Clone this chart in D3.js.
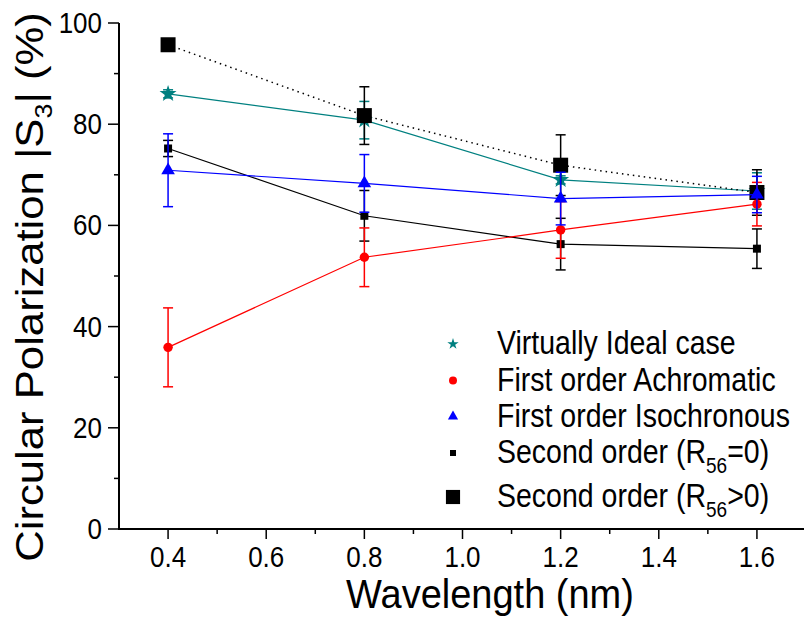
<!DOCTYPE html>
<html>
<head>
<meta charset="utf-8">
<script src="https://cdn.jsdelivr.net/npm/d3@7"></script>
<style>
  body { margin: 0; background: #fff; }
  svg text { font-family: "Liberation Sans", Arial, sans-serif; fill: #000; }
</style>
</head>
<body>
<div id="chart"></div>
<script>
// wavelength (nm) at which each configuration was simulated
const wavelength = [0.4, 0.8, 1.2, 1.6];

// |S3| in percent, with error bar half-heights
const idealVals = [86.0, 80.8, 69.0, 66.8];
const idealErr = [0.8, 3.7, 0.8, 3.6];
const achroVals = [35.9, 53.7, 59.1, 64.2];
const achroErr = [7.8, 5.8, 5.6, 4.3];
const isoVals = [70.9, 68.3, 65.3, 66.1];
const isoErr = [7.2, 5.7, 5.2, 3.6];
const r0Vals = [75.2, 61.9, 56.3, 55.4];
const r0Err = [1.6, 5.0, 5.1, 3.9];
const rpVals = [95.7, 81.7, 71.9, 66.5];
const rpErr = [0, 5.7, 6.0, 4.5];

const xTicks = [0.4, 0.6, 0.8, 1.0, 1.2, 1.4, 1.6];
const yTicks = [0, 20, 40, 60, 80, 100];

const W = 804, H = 618;
var margin = { top: 23, left: 119, bottom: 89 };

const svg = d3.select("#chart").append("svg")
  .attr("width", W)
  .attr("height", H);

const x = d3.scaleLinear().domain([0.3, 1.7]).range([margin.left, 806]);
const y = d3.scaleLinear().domain([0, 100]).range([H - margin.bottom, margin.top]);

// the exported figure is a little taller than wide, text included
function tallText(parent, tx, ty, size, k) {
  return parent.append("text")
    .attr("transform", "translate(" + tx + "," + ty + ") scale(1," + (k || 1.15) + ")")
    .attr("font-size", size);
}

// series in drawing order (later ones sit on top)
const series = [
  { name: "ideal", vals: idealVals, err: idealErr, color: "#008080", symbol: d3.symbolStar, size: 90, dash: null },
  { name: "rp", vals: rpVals, err: rpErr, color: "#000", symbol: d3.symbolSquare, size: 225, dash: "1.5,4" },
  { name: "r0", vals: r0Vals, err: r0Err, color: "#000", symbol: d3.symbolSquare, size: 64, dash: null },
  { name: "achro", vals: achroVals, err: achroErr, color: "#ff0000", symbol: d3.symbolCircle, size: 70, dash: null },
  { name: "iso", vals: isoVals, err: isoErr, color: "#0000ff", symbol: d3.symbolTriangle, size: 80, dash: null }
];

// axes
const xAxis = svg.append("g").attr("transform", "translate(0," + y(0) + ")");
xAxis.append("line").attr("x1", x(0.3)).attr("x2", W).attr("stroke", "#000").attr("stroke-width", 2);
xAxis.selectAll(".minor").data(d3.range(0.5, 1.75, 0.2))
  .enter().append("line")
  .attr("x1", d => x(d)).attr("x2", d => x(d))
  .attr("y1", 0).attr("y2", 5)
  .attr("stroke", "#000").attr("stroke-width", 1.5);
xAxis.selectAll(".major").data(xTicks)
  .enter().append("line")
  .attr("x1", d => x(d)).attr("x2", d => x(d))
  .attr("y1", 0).attr("y2", 10)
  .attr("stroke", "#000").attr("stroke-width", 1.5);
xTicks.forEach(d => {
  tallText(xAxis, x(d), 38, 26)
    .attr("text-anchor", "middle")
    .text(d3.format(".1f")(d));
});

const yAxis = svg.append("g").attr("transform", "translate(" + x(0.3) + ",0)");
yAxis.append("line").attr("y1", y(0) + 1).attr("y2", y(100)).attr("stroke", "#000").attr("stroke-width", 2);
yAxis.selectAll(".minor").data(d3.range(10, 100, 20))
  .enter().append("line")
  .attr("y1", d => y(d)).attr("y2", d => y(d))
  .attr("x1", 0).attr("x2", -5)
  .attr("stroke", "#000").attr("stroke-width", 1.5);
yAxis.selectAll(".major").data(yTicks)
  .enter().append("line")
  .attr("y1", d => y(d)).attr("y2", d => y(d))
  .attr("x1", 0).attr("x2", -11)
  .attr("stroke", "#000").attr("stroke-width", 1.5);
yTicks.forEach(d => {
  tallText(yAxis, -17, y(d) + 10, 26)
    .attr("text-anchor", "end")
    .text(d);
});

// axis titles
tallText(svg, 490, 608, 38, 1.08)
  .attr("text-anchor", "middle")
  .text("Wavelength (nm)");

const yTitle = svg.append("text")
  .attr("transform", "translate(43,287) rotate(-90) scale(1.12,1)")
  .attr("text-anchor", "middle")
  .attr("font-size", 39);
yTitle.append("tspan").text("Circular Polarization |S");
yTitle.append("tspan").attr("font-size", 24).attr("dy", 9).text("3");
yTitle.append("tspan").attr("dy", -9).text("| (%)");

// lines, error bars and markers
const line = d3.line().x(d => x(d[0])).y(d => y(d[1]));

series.forEach(s => {
  let pts = wavelength.map((w, i) => [w, s.vals[i], s.err[i]]);
  let g = svg.append("g").attr("class", s.name);
  g.append("path")
    .attr("d", line(pts))
    .attr("fill", "none")
    .attr("stroke", s.color)
    .attr("stroke-width", s.dash ? 1.5 : 1.2)
    .attr("stroke-dasharray", s.dash);
  let eb = g.selectAll(".err").data(pts.filter(p => p[2] > 0)).enter().append("g");
  eb.append("line")
    .attr("x1", d => x(d[0])).attr("x2", d => x(d[0]))
    .attr("y1", d => y(d[1] - d[2])).attr("y2", d => y(d[1] + d[2]))
    .attr("stroke", s.color).attr("stroke-width", 1.5);
  [-1, 1].forEach(sign => {
    eb.append("line")
      .attr("x1", d => x(d[0]) - 5).attr("x2", d => x(d[0]) + 5)
      .attr("y1", d => y(d[1] + sign * d[2])).attr("y2", d => y(d[1] + sign * d[2]))
      .attr("stroke", s.color).attr("stroke-width", 1.5);
  });
  g.selectAll(".pt").data(pts).enter().append("path")
    .attr("d", d3.symbol().type(s.symbol).size(s.size))
    .attr("transform", d => "translate(" + x(d[0]) + "," + y(d[1]) + ")")
    .attr("fill", s.color);
});

// legend
const legendItems = [
  { label: "Virtually Ideal case", sub: null, color: "#008080", symbol: d3.symbolStar, size: 40 },
  { label: "First order Achromatic", sub: null, color: "#ff0000", symbol: d3.symbolCircle, size: 50 },
  { label: "First order Isochronous", sub: null, color: "#0000ff", symbol: d3.symbolTriangle, size: 45 },
  { label: "Second order (R", sub: ["56", "=0)"], color: "#000", symbol: d3.symbolSquare, size: 36 },
  { label: "Second order (R", sub: ["56", ">0)"], color: "#000", symbol: d3.symbolSquare, size: 200 }
];
const legendY = [344, 380.5, 416.5, 453, 497];

const legend = svg.append("g");
legendItems.forEach((item, i) => {
  legend.append("path")
    .attr("d", d3.symbol().type(item.symbol).size(item.size))
    .attr("transform", "translate(453," + legendY[i] + ")")
    .attr("fill", item.color);
  let t = tallText(legend, 497, legendY[i] + 10, 28.5);
  t.append("tspan").text(item.label);
  if (item.sub) {
    t.append("tspan").attr("font-size", 19).attr("dy", 9).text(item.sub[0]);
    t.append("tspan").attr("dy", -9).text(item.sub[1]);
  }
});
</script>
</body>
</html>
